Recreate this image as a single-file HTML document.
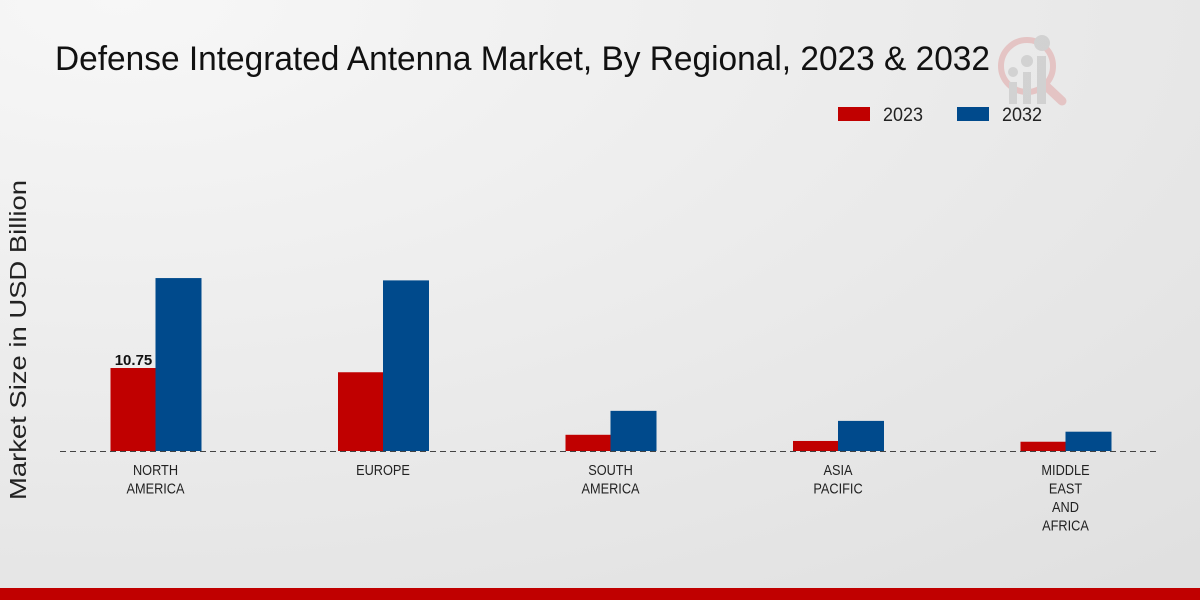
<!DOCTYPE html>
<html><head><meta charset="utf-8"><style>
body{margin:0;width:1200px;height:600px;overflow:hidden;font-family:"Liberation Sans",sans-serif}
</style></head><body>
<svg width="1200" height="600">
<defs><radialGradient id="bg" cx="0.1" cy="0" r="1.3"><stop offset="0" stop-color="#f7f7f7"/><stop offset="1" stop-color="#e0e0e0"/></radialGradient></defs>
<rect width="1200" height="600" fill="url(#bg)"/>
<text x="55" y="70" font-size="34" fill="#111" textLength="935" lengthAdjust="spacingAndGlyphs">Defense Integrated Antenna Market, By Regional, 2023 &amp; 2032</text>
<g opacity="0.5">
<circle cx="1027" cy="66" r="26" fill="none" stroke="#e0a0a0" stroke-width="6"/>
<line x1="1046" y1="86" x2="1062" y2="101" stroke="#e0a0a0" stroke-width="9" stroke-linecap="round"/>
<circle cx="1013" cy="72" r="5" fill="#bbb"/><circle cx="1027" cy="61" r="6" fill="#bbb"/><circle cx="1042" cy="43" r="8" fill="#bbb"/>
<rect x="1009" y="82" width="8" height="22" fill="#bbb"/><rect x="1023" y="72" width="8" height="32" fill="#bbb"/><rect x="1037" y="56" width="9" height="48" fill="#bbb"/>
</g>
<g>
<rect x="838" y="107" width="32" height="14" fill="#c00000"/>
<text x="883" y="121" font-size="19" fill="#222" textLength="40" lengthAdjust="spacingAndGlyphs">2023</text>
<rect x="957" y="107" width="32" height="14" fill="#004a8c"/>
<text x="1002" y="121" font-size="19" fill="#222" textLength="40" lengthAdjust="spacingAndGlyphs">2032</text>
</g>
<text transform="translate(26 340) rotate(-90)" text-anchor="middle" font-size="23" fill="#222" textLength="320" lengthAdjust="spacingAndGlyphs">Market Size in USD Billion</text>
<g id="plot"></g>
<line x1="60" y1="451.5" x2="1160" y2="451.5" stroke="#444" stroke-dasharray="6,4"/>
<rect x="0" y="588" width="1200" height="12" fill="#c00000"/>
</svg>
<script>
const categories=[["NORTH","AMERICA"],["EUROPE"],["SOUTH","AMERICA"],["ASIA","PACIFIC"],["MIDDLE","EAST","AND","AFRICA"]];
const values2023=[10.75,10.2,2.1,1.3,1.2];
const values2032=[22.4,22.1,5.2,3.9,2.5];
const labels2023=["10.75","","","",""];
const ns="http://www.w3.org/2000/svg";
const g=document.getElementById('plot');
const y=v=>451-v*7.72;
const xc=i=>155.5+i*227.5;
function mk(t,a){const e=document.createElementNS(ns,t);for(const k in a)e.setAttribute(k,a[k]);g.appendChild(e);return e;}
categories.forEach((c,i)=>{
 let r=mk('rect',{x:xc(i)-45,y:y(values2023[i]),width:45,height:451-y(values2023[i]),fill:'#c00000'});
 
 
 let b=mk('rect',{x:xc(i),y:y(values2032[i]),width:46,height:451-y(values2032[i]),fill:'#004a8c'});
 
 
 if(labels2023[i]){let t=mk('text',{x:xc(i)-22,y:y(values2023[i])-3,'text-anchor':'middle','font-size':15,'font-weight':'bold',fill:'#111'});t.textContent=labels2023[i];
 
 }
 c.forEach((l,j)=>{let t=mk('text',{x:xc(i),y:475+j*18.5,'text-anchor':'middle','font-size':14.5,fill:'#222',transform:`translate(${xc(i)} 0) scale(0.88 1) translate(${-xc(i)} 0)`});t.textContent=l;
 
 });
});
</script>
</body></html>
